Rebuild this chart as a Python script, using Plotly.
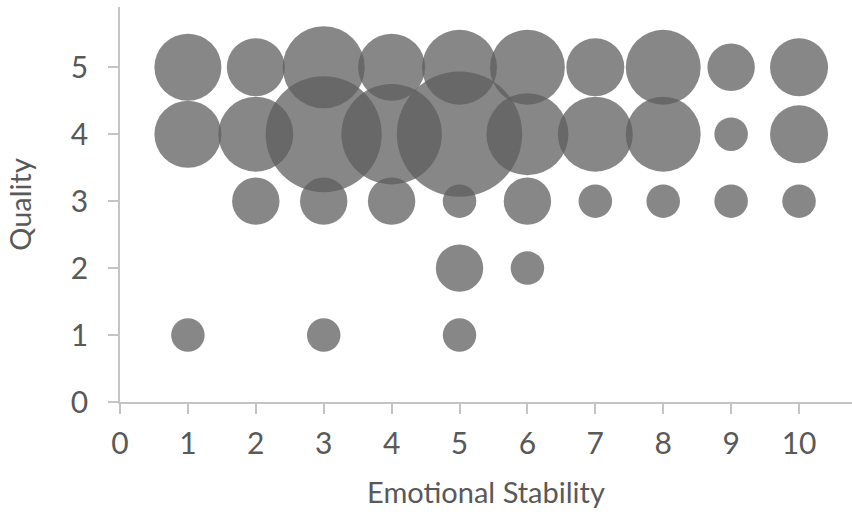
import plotly.graph_objects as go

# Respondent counts for each (emotional stability, quality) rating pair
stability = [1, 2, 3, 4, 5, 6, 7, 8, 9, 10,
             1, 2, 3, 4, 5, 6, 7, 8, 9, 10,
             2, 3, 4, 5, 6, 7, 8, 9, 10,
             5, 6,
             1, 3, 5]
quality = [5, 5, 5, 5, 5, 5, 5, 5, 5, 5,
           4, 4, 4, 4, 4, 4, 4, 4, 4, 4,
           3, 3, 3, 3, 3, 3, 3, 3, 3,
           2, 2,
           1, 1, 1]
counts = [4, 3, 6, 4, 5, 5, 3, 5, 2, 3,
          4, 5, 12, 9, 14, 6, 5, 5, 1, 3,
          2, 2, 2, 1, 2, 1, 1, 1, 1,
          2, 1,
          1, 1, 1]

x_ticks = list(range(0, 11))
y_ticks = list(range(0, 6))

FONT = "Lato, 'Open Sans', sans-serif"
TEXT = "#595959"
AXIS = "#c4c4c4"

fig = go.Figure(
    go.Scatter(
        x=stability,
        y=quality,
        mode="markers",
        marker=dict(
            size=counts,
            sizemode="area",
            sizeref=2 / 33.5 ** 2,
            color="rgb(93,93,93)",
            opacity=0.74,
            line=dict(width=0),
        ),
        hoverinfo="x+y+text",
        text=[f"n = {c}" for c in counts],
    )
)

axis_common = dict(
    showline=True,
    linecolor=AXIS,
    linewidth=1.5,
    ticks="outside",
    ticklen=10,
    tickwidth=1.5,
    tickcolor=AXIS,
    showgrid=False,
    zeroline=False,
    tickfont=dict(family=FONT, size=30, color=TEXT),
    fixedrange=True,
)

fig.update_xaxes(
    range=[0, 10.78],
    tickvals=x_ticks,
    ticklabelstandoff=4,
    title=dict(text="Emotional Stability", font=dict(family=FONT, size=29, color=TEXT), standoff=24),
    **axis_common,
)
fig.update_yaxes(
    range=[0, 5.9],
    tickvals=y_ticks,
    ticklabelstandoff=14,
    title=dict(text="Quality", font=dict(family=FONT, size=29, color=TEXT), standoff=31),
    **axis_common,
)

fig.update_layout(
    width=852,
    height=512,
    autosize=False,
    margin=dict(l=120, r=0, t=7, b=110, pad=0),
    paper_bgcolor="white",
    plot_bgcolor="white",
    showlegend=False,
)

fig.write_html("out.html", config={"displayModeBar": False})
